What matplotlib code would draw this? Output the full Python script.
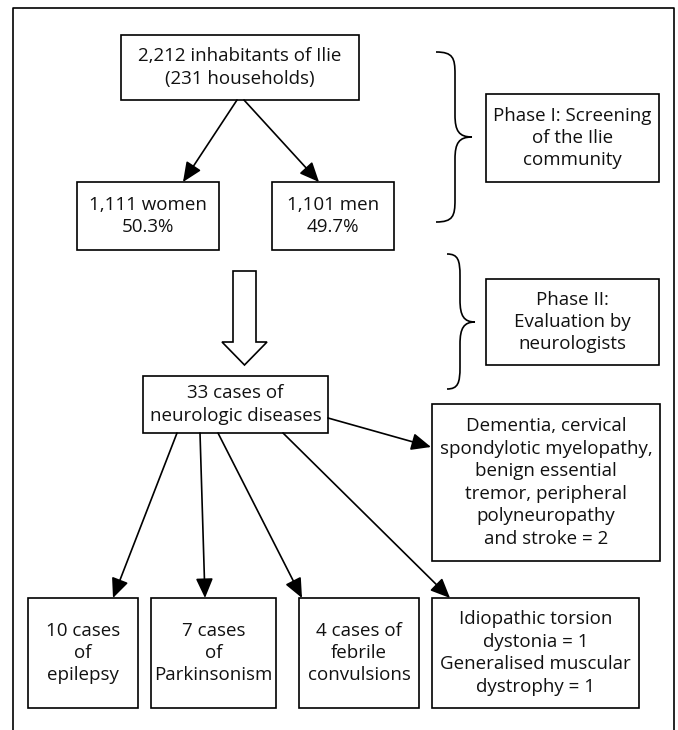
import matplotlib
matplotlib.use("Agg")
import matplotlib.pyplot as plt
from matplotlib.patches import Rectangle, Polygon, PathPatch, FancyArrowPatch
from matplotlib.path import Path

plt.rcParams["font.family"] = ["Open Sans", "DejaVu Sans"]

FONT_SIZE = 13.5
LINE_SPACING = 1.32

# box labels
top_label = "2,212 inhabitants of Ilie\n(231 households)"
sex_labels = ["1,111 women\n50.3%", "1,101 men\n49.7%"]
phase_labels = ["Phase I: Screening\nof the Ilie\ncommunity",
                "Phase II:\nEvaluation by\nneurologists"]
cases_label = "33 cases of\nneurologic diseases"
other_label = ("Dementia, cervical\nspondylotic myelopathy,\nbenign essential\n"
               "tremor, peripheral\npolyneuropathy\nand stroke = 2")
outcome_labels = ["10 cases\nof\nepilepsy",
                  "7 cases\nof\nParkinsonism",
                  "4 cases of\nfebrile\nconvulsions",
                  "Idiopathic torsion\ndystonia = 1\nGeneralised muscular\ndystrophy = 1"]

# layout in pixels (x0, y0, x1, y1), y grows downward
top_box = (121, 35, 359, 100)
sex_boxes = [(77, 182, 219, 250), (272, 182, 394, 250)]
phase_boxes = [(486, 94, 659, 182), (486, 279, 659, 365)]
cases_box = (143, 376, 328, 433)
other_box = (432, 404, 660, 561)
outcome_boxes = [(28, 598, 138, 708), (151, 598, 276, 708),
                 (299, 598, 419, 708), (432, 598, 639, 708)]


def box(ax, b, text):
    x0, y0, x1, y1 = b
    ax.add_patch(Rectangle((x0, y0), x1 - x0, y1 - y0, fill=False,
                           ec="black", lw=1.2))
    ax.text((x0 + x1) / 2, (y0 + y1) / 2, text, ha="center", va="center",
            fontsize=FONT_SIZE, linespacing=LINE_SPACING, color="#111111")


def arrow(ax, p0, p1):
    ax.add_patch(FancyArrowPatch(p0, p1, arrowstyle="-|>,head_length=0.75,head_width=0.33",
                                 mutation_scale=16, lw=1.2, color="black",
                                 shrinkA=0, shrinkB=0))


def brace(ax, x0, x1, x2, ytop, ymid, ybot):
    r = 22
    verts = [(x0, ytop),
             (x1 - 2, ytop), (x1, ytop + 6), (x1, ytop + r),
             (x1, ymid - r),
             (x1, ymid - 6), (x1 + 4, ymid), (x2, ymid),
             (x1 + 4, ymid), (x1, ymid + 6), (x1, ymid + r),
             (x1, ybot - r),
             (x1, ybot - 6), (x1 - 2, ybot), (x0, ybot)]
    codes = [Path.MOVETO,
             Path.CURVE4, Path.CURVE4, Path.CURVE4,
             Path.LINETO,
             Path.CURVE4, Path.CURVE4, Path.CURVE4,
             Path.CURVE4, Path.CURVE4, Path.CURVE4,
             Path.LINETO,
             Path.CURVE4, Path.CURVE4, Path.CURVE4]
    ax.add_patch(PathPatch(Path(verts, codes), fill=False, ec="black", lw=1.2))


fig = plt.figure(figsize=(6.78, 7.30), dpi=100)
ax = fig.add_axes([0, 0, 1, 1])
ax.set_xlim(0, 678)
ax.set_ylim(730, 0)
ax.axis("off")

# outer frame, open at the bottom
ax.plot([12.5, 12.5, 674, 674], [730, 8, 8, 730], color="black", lw=1.2)

box(ax, top_box, top_label)
for b, t in zip(sex_boxes, sex_labels):
    box(ax, b, t)
for b, t in zip(phase_boxes, phase_labels):
    box(ax, b, t)
box(ax, cases_box, cases_label)
box(ax, other_box, other_label)
for b, t in zip(outcome_boxes, outcome_labels):
    box(ax, b, t)

arrow(ax, (237, 100), (183, 182))
arrow(ax, (244, 100), (319, 182))

# hollow block arrow
ax.add_patch(Polygon([(233, 271), (256, 271), (256, 342), (267, 342),
                      (244.5, 365), (222, 342), (233, 342)],
                     closed=True, fc="white", ec="black", lw=1.2))

arrow(ax, (328, 418), (431, 447))
arrow(ax, (177, 433), (113, 598))
arrow(ax, (200, 433), (205, 598))
arrow(ax, (218, 433), (302, 598))
arrow(ax, (283, 433), (450, 598))

brace(ax, 436, 455, 472, 52, 137, 222)
brace(ax, 447, 460, 475, 254, 322, 389)

fig.savefig("out.png", dpi=100)
